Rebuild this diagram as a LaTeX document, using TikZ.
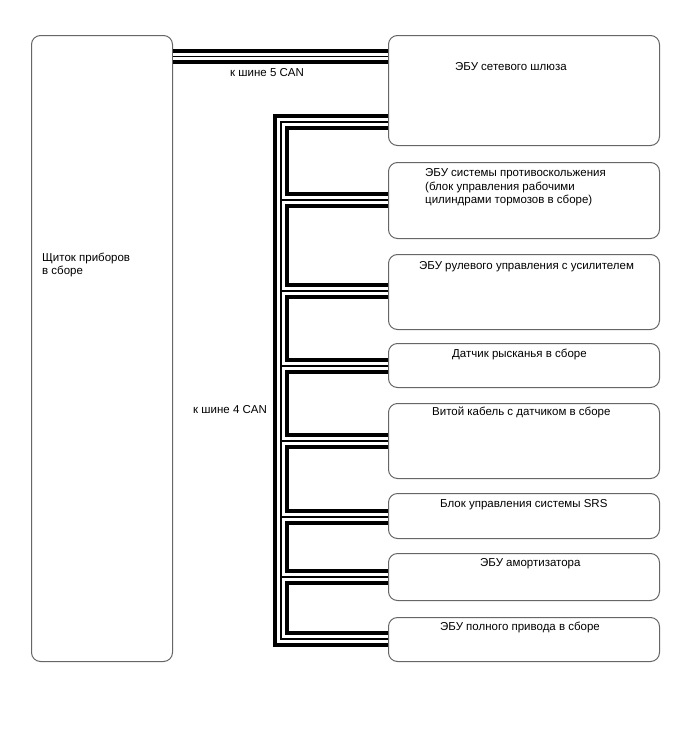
\documentclass[tikz,border=0pt]{standalone}
\usepackage{fontspec}
\setmainfont{Liberation Sans}
\begin{document}
\begin{tikzpicture}[x=1pt,y=-1pt,
  box/.style={draw=black!60, line width=1pt, rounded corners=9pt, anchor=north west, inner sep=0pt, minimum width=271pt},
  lbl/.style={anchor=base west, inner sep=0pt, font=\fontsize{11.5}{13.5}\selectfont},
  busA/.style={line width=15.5pt, black, line join=miter},
  busB/.style={line width=7.5pt, white, line join=miter},
  busC/.style={line width=1.2pt, black, line join=miter}]
\useasboundingbox[fill=white] (0,0) rectangle (688,755);
% boxes
\node[box, minimum width=141pt, minimum height=626pt] (dash) at (31,35) {};
\node[box, minimum height=110pt] (gw) at (388,35) {};
\node[box, minimum height=76pt] (abs) at (388,162) {};
\node[box, minimum height=75pt] (eps) at (388,254) {};
\node[box, minimum height=44pt] (yaw) at (388,343) {};
\node[box, minimum height=75pt] (spr) at (388,403) {};
\node[box, minimum height=45pt] (srs) at (388,493) {};
\node[box, minimum height=47pt] (shk) at (388,553) {};
\node[box, minimum height=44pt] (awd) at (388,617) {};
% bus coordinates
\coordinate (c5) at (0,56.5);
\coordinate (tt) at (281,122);
\coordinate (tb) at (281,639);
\coordinate (s2) at (281,200);
\coordinate (s3) at (281,291);
\coordinate (s4) at (281,366);
\coordinate (s5) at (281,441);
\coordinate (s6) at (281,517);
\coordinate (s7) at (281,577);
% CAN buses
\foreach \st in {busA,busB,busC}{
  \draw[\st] (dash.east |- c5) -- (gw.west |- c5);
  \draw[\st] (gw.west |- tt) -- (tt) -- (tb) -- (awd.west |- tb)
    (s2) -- (abs.west |- s2)
    (s3) -- (eps.west |- s3)
    (s4) -- (yaw.west |- s4)
    (s5) -- (spr.west |- s5)
    (s6) -- (srs.west |- s6)
    (s7) -- (shk.west |- s7);
}
% labels
\node[lbl] (t5) at (230,76) {к шине 5 CAN};
\node[lbl] (t4) at (193,413) {к шине 4 CAN};
\node[lbl] (d1) at (42,261) {Щиток приборов};
\node[lbl] (d2) at (42,274) {в сборе};
\node[lbl] (g1) at (455,70) {ЭБУ сетевого шлюза};
\node[lbl] (a1) at (425,176) {ЭБУ системы противоскольжения};
\node[lbl] (a2) at (425,190) {(блок управления рабочими};
\node[lbl] (a3) at (425,203) {цилиндрами тормозов в сборе)};
\node[lbl] (e1) at (419,269) {ЭБУ рулевого управления с усилителем};
\node[lbl] (y1) at (452,357) {Датчик рысканья в сборе};
\node[lbl] (p1) at (432,415) {Витой кабель с датчиком в сборе};
\node[lbl] (r1) at (440,507) {Блок управления системы SRS};
\node[lbl] (k1) at (480,566) {ЭБУ амортизатора};
\node[lbl] (w1) at (440,630) {ЭБУ полного привода в сборе};
\end{tikzpicture}
\end{document}
